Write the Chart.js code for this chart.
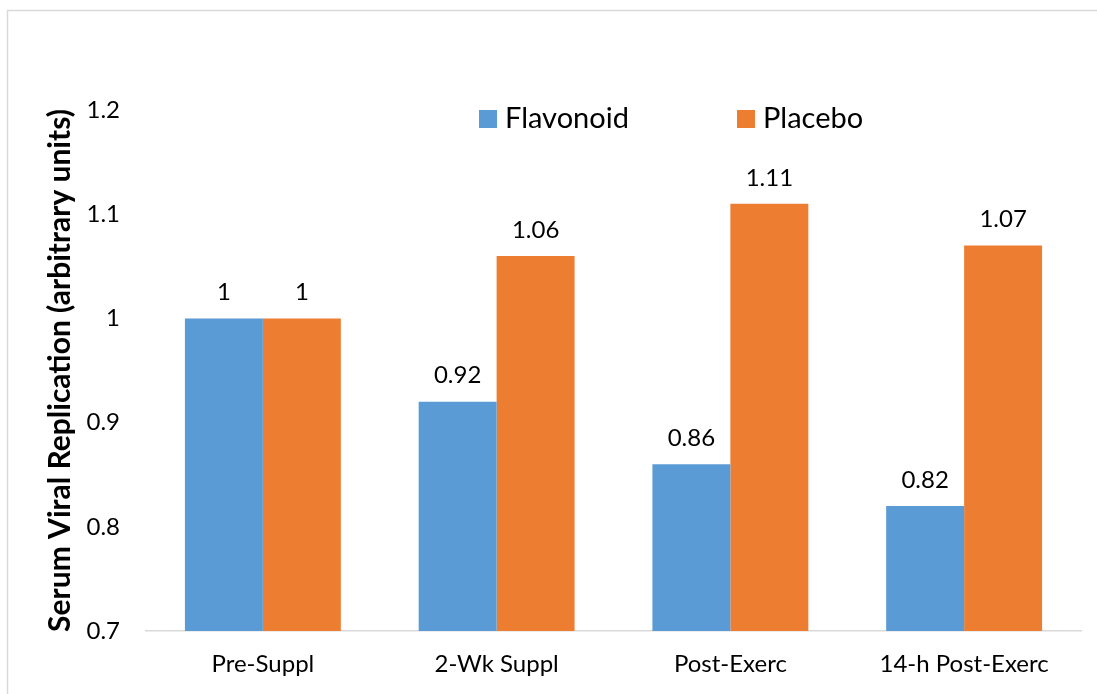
<!DOCTYPE html>
<html>
<head>
<meta charset="utf-8">
<script src="https://cdn.jsdelivr.net/npm/chart.js@4/dist/chart.umd.min.js"></script>
<style>
html,body{margin:0;padding:0;background:#fff;}
#wrap{position:absolute;left:0;top:0;width:1097px;height:694px;}
</style>
</head>
<body>
<div id="wrap"><canvas id="c" width="1097" height="694"></canvas></div>
<script>
const categories = ['Pre-Suppl', '2-Wk Suppl', 'Post-Exerc', '14-h Post-Exerc'];
const flavonoid = [1, 0.92, 0.86, 0.82];
const placebo = [1, 1.06, 1.11, 1.07];
const seriesNames = ['Flavonoid', 'Placebo'];
const seriesColors = ['#5B9BD5', '#ED7D31'];
const yTickLabels = ['0.7', '0.8', '0.9', '1', '1.1', '1.2'];
const yTitle = 'Serum Viral Replication (arbitrary units)';

const FONT = "Lato, 'Open Sans', sans-serif";

const frame = {
  id: 'frame',
  beforeDraw(chart) {
    const ctx = chart.ctx;
    ctx.save();
    ctx.fillStyle = '#fff';
    ctx.fillRect(0, 0, chart.width, chart.height);
    ctx.strokeStyle = '#d9d9d9';
    ctx.lineWidth = 1.5;
    ctx.beginPath();
    ctx.moveTo(7.5, chart.height + 5);
    ctx.lineTo(7.5, 10.5);
    ctx.lineTo(chart.width + 5, 10.5);
    ctx.stroke();
    ctx.restore();
  }
};

const valueLabels = {
  id: 'valueLabels',
  afterDatasetsDraw(chart) {
    const ctx = chart.ctx;
    ctx.save();
    ctx.font = "24px " + FONT;
    ctx.fillStyle = '#000';
    ctx.textAlign = 'center';
    ctx.textBaseline = 'middle';
    chart.data.datasets.forEach((ds, di) => {
      const meta = chart.getDatasetMeta(di);
      meta.data.forEach((bar, i) => {
        ctx.fillText(String(ds.data[i]), bar.x, bar.y - 26);
      });
    });
    ctx.restore();
  }
};

const customLegend = {
  id: 'customLegend',
  afterDraw(chart) {
    const ctx = chart.ctx;
    ctx.save();
    ctx.font = "29px " + FONT;
    ctx.textBaseline = 'middle';
    ctx.textAlign = 'left';
    const starts = [479, 737];
    chart.data.datasets.forEach((ds, di) => {
      const x = starts[di];
      ctx.fillStyle = ds.backgroundColor;
      ctx.fillRect(x, 110, 18, 18);
      ctx.fillStyle = '#000';
      ctx.fillText(ds.label, x + 26, 119);
    });
    ctx.restore();
  }
};

new Chart(document.getElementById('c'), {
  type: 'bar',
  data: {
    labels: categories,
    datasets: [
      { label: seriesNames[0], data: flavonoid, backgroundColor: seriesColors[0], borderWidth: 0 },
      { label: seriesNames[1], data: placebo, backgroundColor: seriesColors[1], borderWidth: 0 }
    ]
  },
  options: {
    responsive: false,
    animation: false,
    devicePixelRatio: 1,
    layout: { padding: { top: 110, right: 16, bottom: 0, left: 0 } },
    plugins: { legend: { display: false }, tooltip: { enabled: false }, title: { display: false } },
    datasets: { bar: { categoryPercentage: 0.667, barPercentage: 1.0 } },
    scales: {
      x: {
        grid: { display: false, drawTicks: false },
        border: { display: true, color: '#d9d9d9', width: 1.5 },
        ticks: { font: { family: FONT, size: 24 }, color: '#000', padding: 19, maxRotation: 0 },
        afterFit(scale) { scale.height = 63; }
      },
      y: {
        min: 0.7,
        max: 1.2,
        grid: { display: false, drawTicks: false },
        border: { display: false },
        ticks: {
          stepSize: 0.1,
          font: { family: FONT, size: 24 },
          color: '#000',
          padding: 26,
          callback: (v, i) => yTickLabels[i]
        },
        title: {
          display: true,
          text: yTitle,
          font: { family: FONT, size: 30, weight: 'bold' },
          color: '#000',
          padding: { top: 42, bottom: 0 }
        },
        afterFit(scale) { scale.width = 146; }
      }
    }
  },
  plugins: [frame, valueLabels, customLegend]
});
</script>
</body>
</html>
